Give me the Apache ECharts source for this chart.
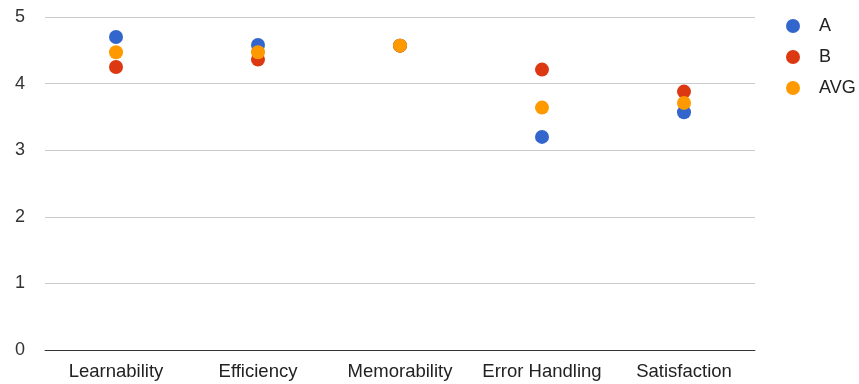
<!DOCTYPE html>
<html>
<head>
<meta charset="utf-8">
<script src="https://cdn.jsdelivr.net/npm/echarts@6/dist/echarts.min.js"></script>
<style>
  html, body { margin: 0; padding: 0; background: #fff; }
  #chart { width: 859px; height: 384px; }
</style>
</head>
<body>
<div id="chart"></div>
<script>
// Usability scores per dimension
const categories = ['Learnability', 'Efficiency', 'Memorability', 'Error Handling', 'Satisfaction'];
const scoresA   = [4.70, 4.58, 4.57, 3.20, 3.57];
const scoresB   = [4.25, 4.36, 4.57, 4.21, 3.88];
const scoresAvg = [4.47, 4.47, 4.57, 3.64, 3.71];
const yTicks = [0, 1, 2, 3, 4, 5];

const font = 'Liberation Sans, Arial, sans-serif';

function dots(name, data, color) {
  return {
    name: name,
    type: 'scatter',
    data: data,
    symbol: 'circle',
    symbolSize: 14,
    itemStyle: { color: color, opacity: 1 },
    emphasis: { disabled: true }
  };
}

const chart = echarts.init(document.getElementById('chart'), null, { renderer: 'canvas' });
chart.setOption({
  animation: false,
  backgroundColor: '#ffffff',
  grid: { left: 45, right: 104, top: 17, bottom: 34, containLabel: false },
  legend: {
    orient: 'vertical',
    left: 781,
    top: 12,
    icon: 'circle',
    itemWidth: 14,
    itemHeight: 14,
    itemGap: 13,
    textStyle: { fontFamily: font, fontSize: 18, color: '#222', padding: [0, 0, 0, 14] },
    data: ['A', 'B', 'AVG']
  },
  xAxis: {
    type: 'category',
    data: categories,
    boundaryGap: true,
    axisTick: { show: false },
    axisLine: { lineStyle: { color: '#333', width: 1 } },
    axisLabel: { fontFamily: font, fontSize: 18.5, color: '#222', margin: 12, interval: 0 }
  },
  yAxis: {
    type: 'value',
    min: yTicks[0],
    max: yTicks[yTicks.length - 1],
    interval: 1,
    axisLine: { show: false },
    axisTick: { show: false },
    splitLine: { lineStyle: { color: '#cccccc', width: 1 } },
    axisLabel: { fontFamily: font, fontSize: 18, color: '#333', margin: 20 }
  },
  series: [
    dots('A', scoresA, '#3366cc'),
    dots('B', scoresB, '#dc3912'),
    dots('AVG', scoresAvg, '#ff9900')
  ]
});
</script>
</body>
</html>
